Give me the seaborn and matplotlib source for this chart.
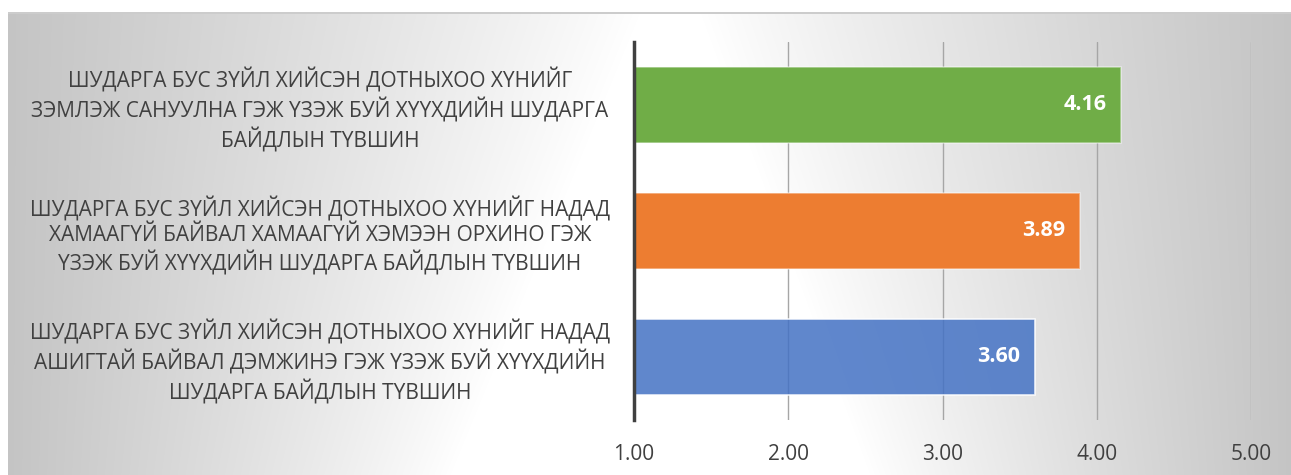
import numpy as np
import matplotlib
matplotlib.use("Agg")
import matplotlib.pyplot as plt
import seaborn as sns

categories = [
    "ШУДАРГА БУС ЗҮЙЛ ХИЙСЭН ДОТНЫХОО ХҮНИЙГ\nЗЭМЛЭЖ САНУУЛНА ГЭЖ ҮЗЭЖ БУЙ ХҮҮХДИЙН ШУДАРГА\nБАЙДЛЫН ТҮВШИН",
    "ШУДАРГА БУС ЗҮЙЛ ХИЙСЭН ДОТНЫХОО ХҮНИЙГ НАДАД\nХАМААГҮЙ БАЙВАЛ ХАМААГҮЙ ХЭМЭЭН ОРХИНО ГЭЖ\nҮЗЭЖ БУЙ ХҮҮХДИЙН ШУДАРГА БАЙДЛЫН ТҮВШИН",
    "ШУДАРГА БУС ЗҮЙЛ ХИЙСЭН ДОТНЫХОО ХҮНИЙГ НАДАД\nАШИГТАЙ БАЙВАЛ ДЭМЖИНЭ ГЭЖ ҮЗЭЖ БУЙ ХҮҮХДИЙН\nШУДАРГА БАЙДЛЫН ТҮВШИН",
]
values = [4.16, 3.89, 3.60]
colors = ["#70AD47", "#ED7D31", "#4472C4"]
xticks = [1, 2, 3, 4, 5]
xticklabels = ["1.00", "2.00", "3.00", "4.00", "5.00"]

sns.set_theme(style="white")
plt.rcParams["font.family"] = ["Open Sans", "DejaVu Sans"]

W, H = 1291, 475
fig = plt.figure(figsize=(W / 100, H / 100), dpi=100)

# background gradient (chart area style)
bg = fig.add_axes([0, 0, 1, 1], zorder=0)
bg.axis("off")
yy, xx = np.mgrid[0:H, 0:W].astype(float)
frac = np.clip((yy - 12) / (H - 12), 0, 1)
xl = 640 - 190 * frac
xr = 700 + 170 * frac
tl = np.clip((xl - xx) / (xl - 8), 0, 1)
tr = np.clip((xx - xr) / (W - xr), 0, 1)
t = np.maximum(tl, tr) ** 0.9
g = 1.0 - 0.23 * t
g[yy < 12] = 1.0
g[xx < 8] = 1.0
g[(yy >= 12) & (yy < 13.5) & (xx >= 8)] = 0.80
img = np.dstack([g, g, g])
bg.imshow(img, extent=[0, W, H, 0], aspect="auto", interpolation="bilinear")
bg.set_xlim(0, W)
bg.set_ylim(H, 0)

ax = fig.add_axes([634 / W, (H - 420) / H, (1251 - 634) / W, (420 - 42) / H], zorder=1)
ax.patch.set_alpha(0)

sns.barplot(x=values, y=categories, hue=categories, palette=colors, orient="h",
            width=0.6, legend=False, ax=ax, saturation=1)

for i, cont in enumerate(ax.containers):
    for p in cont:
        p.set_edgecolor((1, 1, 1, 0.45))
        p.set_linewidth(1.2)
        if i == 2:
            p.set_alpha(0.85)
            p.set_edgecolor((1, 1, 1, 0.45))

for i, v in enumerate(values):
    ax.annotate(f"{v:.2f}", xy=(v, i), xytext=(-15, 0), textcoords="offset pixels",
                ha="right", va="center", color="white", fontsize=15.5, fontweight="bold")

ax.set_xlim(1, 5)
ax.set_xticks(xticks)
ax.set_xticklabels(xticklabels)
ax.xaxis.grid(True, color="#a6a6a6", linewidth=1)
ax.set_axisbelow(True)
for s in ["top", "right", "bottom"]:
    ax.spines[s].set_visible(False)
ax.spines["left"].set_color("#404040")
ax.spines["left"].set_linewidth(2.5)
ax.spines["left"].set_zorder(5)

ax.tick_params(axis="x", length=0, pad=17, labelsize=15, labelcolor="#404040")
ax.tick_params(axis="y", length=0, pad=226, labelsize=15, labelcolor="#404040")
for lab in ax.get_yticklabels():
    lab.set_ha("center")
    lab.set_multialignment("center")
    lab.set_linespacing(1.24)
ax.set_xlabel("")
ax.set_ylabel("")

fig.savefig("out.png", dpi=100)
